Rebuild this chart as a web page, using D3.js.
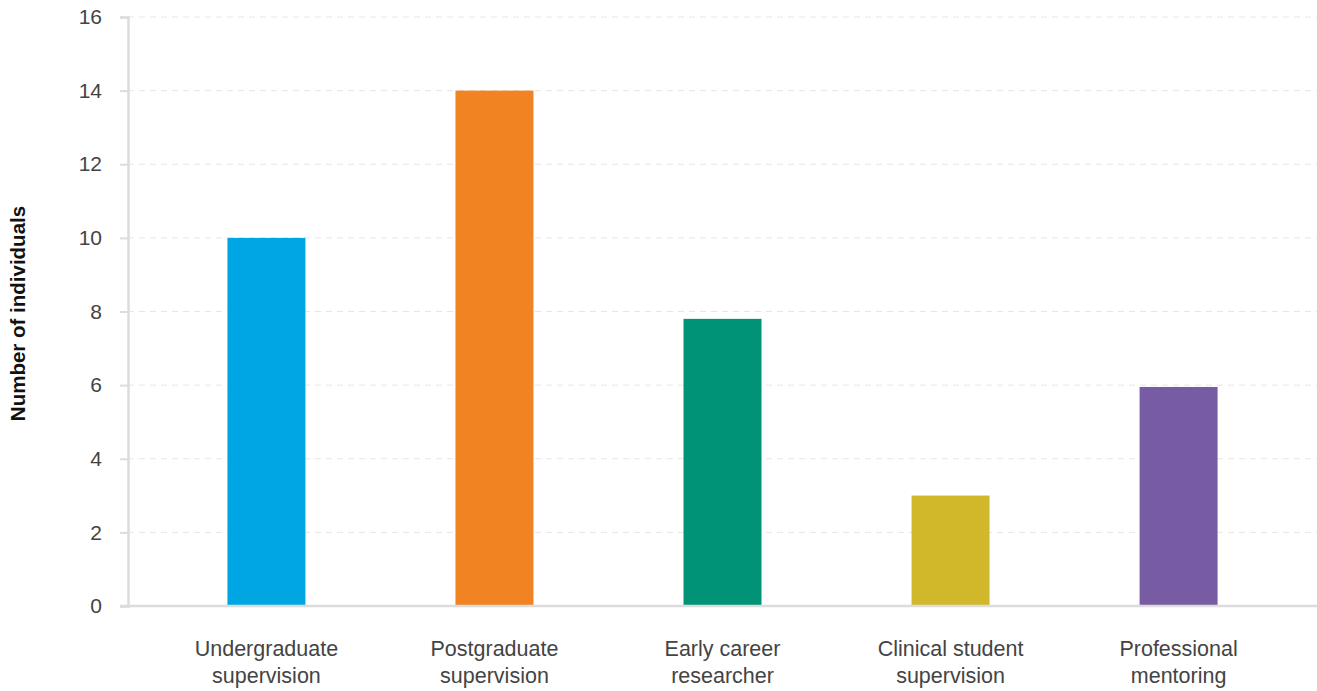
<!DOCTYPE html>
<html>
<head>
<meta charset="utf-8">
<script src="https://cdn.jsdelivr.net/npm/d3@7"></script>
<style>
    body { margin: 0; background: #fff; }
    svg text { font-family: "Liberation Sans", Arial, sans-serif; }
</style>
</head>
<body>
<script>
'use strict';

var categories = [
    ["Undergraduate", "supervision"],
    ["Postgraduate", "supervision"],
    ["Early career", "researcher"],
    ["Clinical student", "supervision"],
    ["Professional", "mentoring"]
];
var values = [10, 14, 7.8, 3, 5.95];
var colors = ["#00a6e2", "#f28322", "#009378", "#d1b82b", "#775ba3"];
var yTicks = [0, 2, 4, 6, 8, 10, 12, 14, 16];

var width = 1317, height = 691;
var margin = {top: 17, right: 0, bottom: 85, left: 128};

var svg = d3.select("body").append("svg")
    .attr("width", width)
    .attr("height", height);

var keys = categories.map(function(c) { return c.join(" "); });

var x = d3.scaleBand()
    .domain(keys)
    .range([margin.left, width - margin.right])
    .paddingInner(0.658)
    .paddingOuter(0.436);

var y = d3.scaleLinear()
    .domain([0, 16])
    .range([height - margin.bottom, margin.top]);

// dashed gridlines
svg.append("g")
    .selectAll("line")
    .data(yTicks.filter(function(t) { return t > 0; }))
    .enter().append("line")
    .attr("x1", margin.left)
    .attr("x2", width)
    .attr("y1", function(d) { return y(d); })
    .attr("y2", function(d) { return y(d); })
    .attr("stroke", "#e6e6e6")
    .attr("stroke-width", 1)
    .attr("stroke-dasharray", "6,5");

// y axis
var yAxis = d3.axisLeft(y)
    .tickValues(yTicks)
    .tickSize(8)
    .tickPadding(18)
    .tickFormat(d3.format("d"));

var gy = svg.append("g")
    .attr("transform", "translate(" + margin.left + ",0)")
    .call(yAxis);

gy.select(".domain").attr("stroke", "#dcdcdc").attr("stroke-width", 2.5);
gy.selectAll(".tick line").attr("stroke", "#dcdcdc").attr("stroke-width", 2);
gy.selectAll(".tick text")
    .attr("fill", "#444")
    .style("font-size", "21px");

// bars
svg.append("g")
    .selectAll("rect")
    .data(values)
    .enter().append("rect")
    .attr("x", function(d, i) { return x(keys[i]); })
    .attr("y", function(d) { return y(d); })
    .attr("width", x.bandwidth())
    .attr("height", function(d) { return y(0) - y(d); })
    .attr("fill", function(d, i) { return colors[i]; });

// baseline
svg.append("line")
    .attr("x1", margin.left - 8)
    .attr("x2", width)
    .attr("y1", y(0))
    .attr("y2", y(0))
    .attr("stroke", "#dcdcdc")
    .attr("stroke-width", 2.5);

// category labels
var labels = svg.append("g")
    .selectAll("text")
    .data(categories)
    .enter().append("text")
    .attr("text-anchor", "middle")
    .attr("fill", "#444")
    .style("font-size", "21.5px")
    .attr("transform", function(d, i) {
        return "translate(" + (x(keys[i]) + x.bandwidth() / 2) + "," + (y(0) + 50) + ")";
    });

labels.selectAll("tspan")
    .data(function(d) { return d; })
    .enter().append("tspan")
    .attr("x", 0)
    .attr("dy", function(d, i) { return i === 0 ? 0 : 27; })
    .text(function(d) { return d; });

// y axis title
svg.append("text")
    .attr("transform", "translate(25," + (y(8) + 2) + ") rotate(-90)")
    .attr("text-anchor", "middle")
    .attr("fill", "#111")
    .style("font-size", "20.5px")
    .style("font-weight", "bold")
    .text("Number of individuals");
</script>
</body>
</html>
